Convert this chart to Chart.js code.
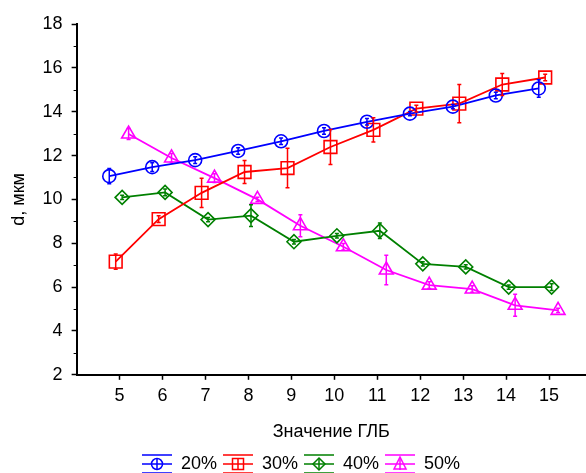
<!DOCTYPE html>
<html>
<head>
<meta charset="utf-8">
<script src="https://cdn.jsdelivr.net/npm/chart.js@4"></script>
<style>
html, body { margin: 0; padding: 0; background: #fff; }
</style>
</head>
<body>
<canvas id="chart" width="586" height="473"></canvas>
<script>
// HLB values on the x axis
const hlb = [5, 6, 7, 8, 9, 10, 11, 12, 13, 14, 15];
const xTicks = [5, 6, 7, 8, 9, 10, 11, 12, 13, 14, 15];
const yTicks = [2, 4, 6, 8, 10, 12, 14, 16, 18];
const yMinor = [3, 5, 7, 9, 11, 13, 15, 17];

const names = ['20%', '30%', '40%', '50%'];
// the series are drawn slightly apart on x, as in the source plot
const shift = [-0.24, -0.09, 0.06, 0.21];

const d20 = [11.06, 11.47, 11.79, 12.21, 12.65, 13.12, 13.54, 13.91, 14.23, 14.74, 15.06];
const d30 = [7.16, 9.1, 10.3, 11.25, 11.43, 12.39, 13.17, 14.14, 14.37, 15.24, 15.56];
const d40 = [10.09, 10.32, 9.08, 9.26, 8.07, 8.34, 8.57, 7.06, 6.92, 6.0, 6.0];
const d50 = [12.98, 11.89, 10.97, 10.0, 8.8, 7.84, 6.78, 6.09, 5.91, 5.17, 4.94];

const e20 = [0.35, 0.2, 0.15, 0.15, 0.15, 0.15, 0.15, 0.1, 0.1, 0.15, 0.4];
const e30 = [0.35, 0.15, 0.67, 0.52, 0.9, 0.8, 0.55, 0.15, 0.87, 0.5, 0.15];
const e40 = [0.1, 0.15, 0.1, 0.5, 0.1, 0.1, 0.35, 0.1, 0.1, 0.1, 0.15];
const e50 = [0.25, 0.2, 0.2, 0.1, 0.5, 0.15, 0.67, 0.15, 0.15, 0.5, 0.1];

const colors = ['#0000ff', '#ff0000', '#008000', '#ff00ff'];
const styles = ['circle', 'rect', 'rectRot', 'triangle'];
const radii = [6.5, 9, 7, 8];

const values = [d20, d30, d40, d50];
const errors = [e20, e30, e40, e50];

function legendSymbol(i) {
    const c = document.createElement('canvas');
    c.width = 30; c.height = 20;
    const g = c.getContext('2d');
    g.strokeStyle = colors[i];
    g.lineWidth = 1.5;
    g.beginPath();
    g.moveTo(0, 1); g.lineTo(30, 1);
    g.moveTo(0, 10); g.lineTo(30, 10);
    g.moveTo(0, 19); g.lineTo(30, 19);
    g.moveTo(15, 4); g.lineTo(15, 16);
    g.stroke();
    g.beginPath();
    if (styles[i] === 'circle') g.arc(15, 10, 5.5, 0, Math.PI * 2);
    if (styles[i] === 'rect') g.rect(9.5, 4.5, 11, 11);
    if (styles[i] === 'rectRot') { g.moveTo(15, 4); g.lineTo(21, 10); g.lineTo(15, 16); g.lineTo(9, 10); g.closePath(); }
    if (styles[i] === 'triangle') { g.moveTo(15, 3); g.lineTo(21, 15); g.lineTo(9, 15); g.closePath(); }
    g.stroke();
    return c;
}

const errorBars = {
    id: 'errorBars',
    afterDatasetsDraw(chart) {
        const ctx = chart.ctx;
        const y = chart.scales.y;
        chart.data.datasets.forEach((ds, i) => {
            const meta = chart.getDatasetMeta(i);
            ctx.save();
            ctx.strokeStyle = ds.borderColor;
            ctx.lineWidth = 1.5;
            meta.data.forEach((pt, j) => {
                const top = y.getPixelForValue(ds.data[j].y + errors[i][j]);
                const bot = y.getPixelForValue(ds.data[j].y - errors[i][j]);
                ctx.beginPath();
                ctx.moveTo(pt.x, top); ctx.lineTo(pt.x, bot);
                ctx.moveTo(pt.x - 2, top); ctx.lineTo(pt.x + 2, top);
                ctx.moveTo(pt.x - 2, bot); ctx.lineTo(pt.x + 2, bot);
                ctx.stroke();
            });
            ctx.restore();
        });
    }
};

const minorTicks = {
    id: 'minorTicks',
    afterDraw(chart) {
        const ctx = chart.ctx;
        const y = chart.scales.y;
        const x0 = chart.chartArea.left;
        ctx.save();
        ctx.strokeStyle = '#000';
        ctx.lineWidth = 1;
        yMinor.forEach(v => {
            const py = Math.round(y.getPixelForValue(v)) + 0.5;
            ctx.beginPath();
            ctx.moveTo(x0 - 3, py); ctx.lineTo(x0, py);
            ctx.stroke();
        });
        ctx.restore();
    }
};

const shiftLegend = {
    id: 'shiftLegend',
    afterLayout(chart) {
        chart.legend.left += 8;
        chart.legend.right += 8;
    }
};

const datasets = values.map((vals, i) => ({
    label: names[i],
    data: vals.map((v, j) => ({ x: hlb[j] + shift[i], y: v })),
    borderColor: colors[i],
    backgroundColor: 'rgba(0,0,0,0)',
    borderWidth: 1.8,
    pointStyle: styles[i],
    pointRadius: radii[i],
    pointBorderWidth: 1.6,
    pointBorderColor: colors[i],
    pointBackgroundColor: 'rgba(0,0,0,0)',
    tension: 0
}));

const font = { family: 'Arial, "Liberation Sans", sans-serif', size: 18 };

new Chart(document.getElementById('chart').getContext('2d'), {
    type: 'line',
    data: { datasets: datasets },
    options: {
        responsive: false,
        animation: false,
        devicePixelRatio: 1,
        layout: { autoPadding: false, padding: { top: 24, right: 0, left: 0, bottom: -10 } },
        scales: {
            x: {
                type: 'linear',
                min: 4,
                max: 15.86,
                afterBuildTicks: s => { s.ticks = xTicks.map(v => ({ value: v })); },
                afterFit: s => { s.paddingRight = 0; s.paddingLeft = 0; },
                grid: { drawOnChartArea: false, drawTicks: true, tickLength: 5, color: '#000', tickWidth: 1.5 },
                border: { display: true, color: '#000', width: 2 },
                ticks: { color: '#000', font: font, padding: 5, maxRotation: 0 },
                title: { display: true, text: 'Значение ГЛБ', color: '#000', font: font, padding: { top: 10, bottom: 6 } }
            },
            y: {
                min: 2,
                max: 18,
                afterBuildTicks: s => { s.ticks = yTicks.map(v => ({ value: v })); },
                grid: { drawOnChartArea: false, drawTicks: true, tickLength: 5, color: '#000', tickWidth: 1.5 },
                border: { display: true, color: '#000', width: 2 },
                ticks: { color: '#000', font: font, padding: 9 },
                title: { display: true, text: 'd, мкм', color: '#000', font: font, padding: { top: 8, bottom: 4 } }
            }
        },
        plugins: {
            legend: {
                position: 'bottom',
                labels: {
                    usePointStyle: true,
                    pointStyleWidth: 30,
                    padding: 6,
                    color: '#000',
                    font: font,
                    generateLabels: chart => chart.data.datasets.map((ds, i) => ({
                        text: ds.label,
                        pointStyle: legendSymbol(i),
                        fillStyle: 'rgba(0,0,0,0)',
                        strokeStyle: colors[i],
                        lineWidth: 0,
                        fontColor: '#000',
                        datasetIndex: i,
                        hidden: false
                    }))
                }
            },
            tooltip: { enabled: false }
        }
    },
    plugins: [errorBars, minorTicks, shiftLegend]
});
</script>
</body>
</html>
